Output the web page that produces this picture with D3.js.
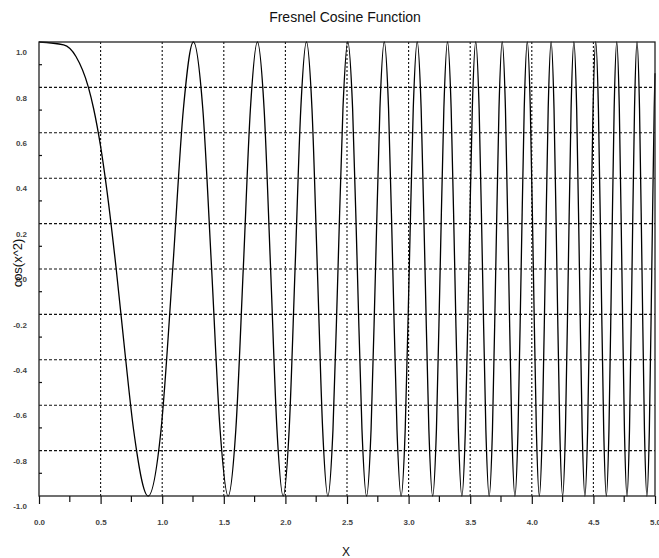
<!DOCTYPE html>
<html>
<head>
<meta charset="utf-8">
<script src="https://cdn.jsdelivr.net/npm/d3@7"></script>
<style>
  html, body { margin: 0; padding: 0; background: #fff; }
  svg { display: block; font-family: "Liberation Sans", Arial, sans-serif; }
</style>
</head>
<body>
<svg id="chart" width="659" height="558"></svg>
<script>
// ---- data ----
const xValues = [
  0, 0.2, 0.3, 0.4, 0.4431, 0.5, 0.55, 0.6267, 0.7, 0.7675, 0.8862, 0.9908, 1.0854, 1.1724, 1.2533,
  1.3293, 1.4012, 1.4697, 1.5350, 1.5977, 1.6580, 1.7162, 1.7725, 1.8270, 1.8800, 1.9315,
  1.9817, 2.0306, 2.0784, 2.1251, 2.1708, 2.2156, 2.2594, 2.3025, 2.3447, 2.3862, 2.4270,
  2.4672, 2.5066, 2.5455, 2.5838, 2.6215, 2.6587, 2.6954, 2.7315, 2.7672, 2.8025, 2.8373,
  2.8717, 2.9057, 2.9393, 2.9725, 3.0053, 3.0378, 3.0700, 3.1018, 3.1333, 3.1645, 3.1953,
  3.2259, 3.2562, 3.2862, 3.3160, 3.3454, 3.3747, 3.4036, 3.4324, 3.4608, 3.4891, 3.5171,
  3.5449, 3.5725, 3.5999, 3.6271, 3.6540, 3.6808, 3.7074, 3.7337, 3.7599, 3.7860, 3.8118,
  3.8375, 3.8630, 3.8883, 3.9135, 3.9385, 3.9633, 3.9880, 4.0126, 4.0370, 4.0612, 4.0853,
  4.1093, 4.1331, 4.1568, 4.1803, 4.2037, 4.2270, 4.2502, 4.2732, 4.2962, 4.3189, 4.3416,
  4.3642, 4.3866, 4.4089, 4.4311, 4.4532, 4.4752, 4.4971, 4.5189, 4.5406, 4.5621, 4.5836,
  4.6050, 4.6263, 4.6474, 4.6685, 4.6895, 4.7104, 4.7312, 4.7519, 4.7725, 4.7930, 4.8135,
  4.8338, 4.8541, 4.8743, 4.8944, 4.9144, 4.9343, 4.9542, 4.9739, 4.9936, 5.0
];
const yValues = [
  1, 0.987, 0.936, 0.802, 0.707, 0.540, 0.351, 0, -0.380, -0.707, -1, -0.707, 0, 0.707, 1,
  0.707, 0, -0.707, -1, -0.707, 0, 0.707, 1, 0.707, 0, -0.707,
  -1, -0.707, 0, 0.707, 1, 0.707, 0, -0.707, -1, -0.707, 0,
  0.707, 1, 0.707, 0, -0.707, -1, -0.707, 0, 0.707, 1, 0.707,
  0, -0.707, -1, -0.707, 0, 0.707, 1, 0.707, 0, -0.707, -1,
  -0.707, 0, 0.707, 1, 0.707, 0, -0.707, -1, -0.707, 0, 0.707,
  1, 0.707, 0, -0.707, -1, -0.707, 0, 0.707, 1, 0.707, 0,
  -0.707, -1, -0.707, 0, 0.707, 1, 0.707, 0, -0.707, -1, -0.707,
  0, 0.707, 1, 0.707, 0, -0.707, -1, -0.707, 0, 0.707, 1,
  0.707, 0, -0.707, -1, -0.707, 0, 0.707, 1, 0.707, 0, -0.707,
  -1, -0.707, 0, 0.707, 1, 0.707, 0, -0.707, -1, -0.707, 0,
  0.707, 1, 0.707, 0, -0.707, -1, -0.707, 0, 0.707, 0.862
];
const xTicks = [0, 0.5, 1, 1.5, 2, 2.5, 3, 3.5, 4, 4.5, 5];
const xTickLabels = ["0.0", "0.5", "1.0", "1.5", "2.0", "2.5", "3.0", "3.5", "4.0", "4.5", "5.0"];
const xMinorTicks = [0.25, 0.75, 1.25, 1.75, 2.25, 2.75, 3.25, 3.75, 4.25, 4.75];
const yTicks = [-1, -0.8, -0.6, -0.4, -0.2, 0, 0.2, 0.4, 0.6, 0.8, 1];
const yTickLabels = ["-1.0", "-0.8", "-0.6", "-0.4", "-0.2", "0.0", "0.2", "0.4", "0.6", "0.8", "1.0"];
const yMinorTicks = [-0.9, -0.7, -0.5, -0.3, -0.1, 0.1, 0.3, 0.5, 0.7, 0.9];
const titleText = "Fresnel Cosine Function";
const xLabelText = "X";
const yLabelText = "cos(x^2)";

// ---- layout ----
const plotLeft = 39, plotRight = 655, plotTop = 42, plotBottom = 496;
const svg = d3.select("#chart");
const x = d3.scaleLinear().domain([0, 5]).range([plotLeft, plotRight]);
const y = d3.scaleLinear().domain([-1, 1]).range([plotBottom, plotTop]);

// grid lines
svg.append("g").selectAll("line")
  .data(yTicks.filter(v => v > -1 && v < 1))
  .join("line")
  .attr("x1", plotLeft).attr("x2", plotRight)
  .attr("y1", d => y(d)).attr("y2", d => y(d))
  .attr("stroke", "#111").attr("stroke-width", 1.1)
  .attr("stroke-dasharray", "3,2");
svg.append("g").selectAll("line")
  .data(xTicks.filter(v => v > 0 && v < 5))
  .join("line")
  .attr("x1", d => x(d)).attr("x2", d => x(d))
  .attr("y1", plotTop).attr("y2", plotBottom)
  .attr("stroke", "#111").attr("stroke-width", 1.1)
  .attr("stroke-dasharray", "2,2");

// curve
const pts = xValues.map((v, i) => [v, yValues[i]]);
svg.append("path")
  .datum(pts)
  .attr("fill", "none")
  .attr("stroke", "#000")
  .attr("stroke-width", 1.3)
  .attr("d", d3.line().x(d => x(d[0])).y(d => y(d[1])).curve(d3.curveMonotoneX));

// frame
svg.append("rect")
  .attr("x", plotLeft).attr("y", plotTop)
  .attr("width", plotRight - plotLeft).attr("height", plotBottom - plotTop)
  .attr("fill", "none").attr("stroke", "#222").attr("stroke-width", 1.3);

// bottom axis
const xAxis = d3.axisBottom(x)
  .tickValues(xTicks)
  .tickSize(8)
  .tickFormat((d, i) => xTickLabels[i]);
const gx = svg.append("g").attr("transform", `translate(0,${plotBottom})`).call(xAxis);
gx.select(".domain").remove();
gx.selectAll(".tick line").attr("stroke", "#111").attr("stroke-width", 1.2);
gx.selectAll(".tick text")
  .attr("y", 26).attr("dy", "0.35em")
  .attr("font-size", 8).attr("font-weight", "bold").attr("fill", "#444");
svg.append("g").selectAll("line")
  .data(xMinorTicks)
  .join("line")
  .attr("x1", d => x(d)).attr("x2", d => x(d))
  .attr("y1", plotBottom).attr("y2", plotBottom + 6)
  .attr("stroke", "#111").attr("stroke-width", 1.2);

// left axis
const yAxis = d3.axisLeft(y)
  .tickValues(yTicks)
  .tickSize(0)
  .tickPadding(12)
  .tickFormat((d, i) => yTickLabels[i]);
const gy = svg.append("g").attr("transform", `translate(${plotLeft},0)`).call(yAxis);
gy.select(".domain").remove();
gy.selectAll(".tick text")
  .attr("y", 10).attr("dy", "0.35em")
  .attr("font-size", 8).attr("font-weight", "bold").attr("fill", "#444");
svg.append("g").selectAll("line")
  .data(yMinorTicks)
  .join("line")
  .attr("x1", plotLeft).attr("x2", plotLeft + 3)
  .attr("y1", d => y(d)).attr("y2", d => y(d))
  .attr("stroke", "#111").attr("stroke-width", 1.2);

// texts
svg.append("text")
  .attr("x", 345).attr("y", 22)
  .attr("text-anchor", "middle")
  .attr("font-size", 14).attr("fill", "#111")
  .text(titleText);
svg.append("text")
  .attr("x", 346).attr("y", 556)
  .attr("text-anchor", "middle")
  .attr("font-size", 12).attr("fill", "#111")
  .text(xLabelText);
svg.append("text")
  .attr("transform", "translate(22,263) rotate(-90)")
  .attr("text-anchor", "middle")
  .attr("font-size", 13).attr("fill", "#111")
  .text(yLabelText);
</script>
</body>
</html>
